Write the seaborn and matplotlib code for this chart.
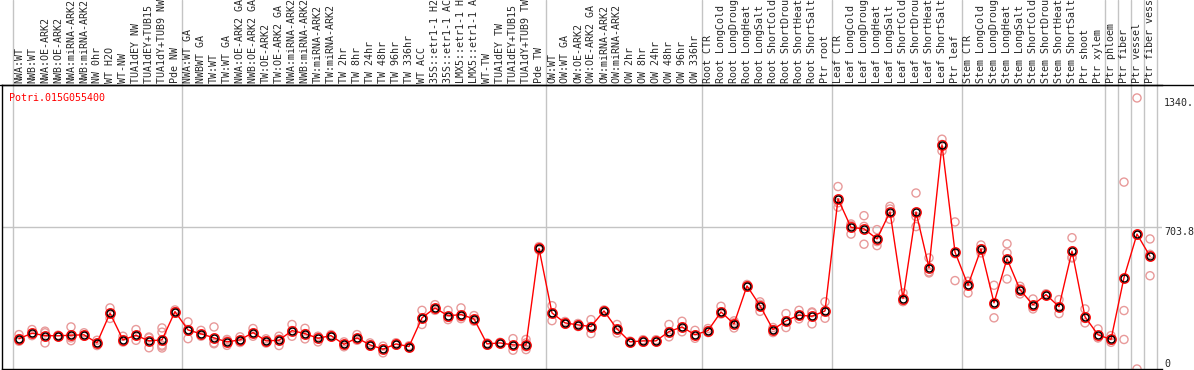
import numpy as np
import pandas as pd
import matplotlib.pyplot as plt
import seaborn as sns
from matplotlib.lines import Line2D

# sample names (top labels)
samples = [
    "NWA:WT", "NWB:WT", "NWA:OE-ARK2", "NWB:OE-ARK2", "NWA:miRNA-ARK2", "NWB:miRNA-ARK2",
    "NW 0hr", "WT H2O", "WT-NW", "TUA1dEY NW", "TUA1dEY+TUB15 NW", "TUA1dY+TUB9 NW", "Pde NW",
    "NWA:WT GA", "NWBWT GA", "TW:WT", "TW:WT GA", "NWA:OE-ARK2 GA", "NWB:OE-ARK2 GA",
    "TW:OE-ARK2", "TW:OE-ARK2 GA", "NWA:miRNA-ARK2 GA", "NWB:miRNA-ARK2 GA", "TW:miRNA-ARK2",
    "TW:miRNA-ARK2 GA", "TW 2hr", "TW 8hr", "TW 24hr", "TW 48hr", "TW 96hr", "TW 336hr", "WT ACC",
    "35S::etr1-1 H2O", "35S::etr1-1 ACC", "LMX5::etr1-1 H2O", "LMX5::etr1-1 ACC", "WT-TW",
    "TUA1dEY TW", "TUA1dEY+TUB15 TW", "TUA1dY+TUB9 TW", "Pde TW",
    "OW:WT", "OW:WT GA", "OW:OE-ARK2", "OW:OE-ARK2 GA", "OW:miRNA-ARK2", "OW:miRNA-ARK2 GA",
    "OW 2hr", "OW 8hr", "OW 24hr", "OW 48hr", "OW 96hr", "OW 336hr",
    "Root CTR", "Root LongCold", "Root LongDrought", "Root LongHeat", "Root LongSalt",
    "Root ShortCold", "Root ShortDrought", "Root ShortHeat", "Root ShortSalt", "Ptr root",
    "Leaf CTR", "Leaf LongCold", "Leaf LongDrought", "Leaf LongHeat", "Leaf LongSalt",
    "Leaf ShortCold", "Leaf ShortDrought", "Leaf ShortHeat", "Leaf ShortSalt", "Ptr leaf",
    "Stem CTR", "Stem LongCold", "Stem LongDrought", "Stem LongHeat", "Stem LongSalt",
    "Stem ShortCold", "Stem ShortDrought", "Stem ShortHeat", "Stem ShortSalt",
    "Ptr shoot", "Ptr xylem", "Ptr phloem", "Ptr fiber", "Ptr vessel", "Ptr fiber vessel",
]

# mean expression per sample
means = [150, 177, 165, 164, 167, 169, 129, 276, 144, 167,
         139, 144, 284, 193, 174, 154, 134, 144, 180, 139,
         142, 190, 175, 152, 165, 122, 154, 119, 98, 124,
         111, 253, 302, 263, 269, 248, 124, 129, 119, 119,
         596, 277, 228, 218, 210, 287, 198, 134, 139, 139,
         185, 208, 169, 190, 282, 223, 411, 313, 195, 238,
         266, 261, 287, 841, 700, 693, 643, 777, 348, 776,
         501, 1108, 578, 414, 593, 327, 545, 392, 317, 368,
         308, 583, 258, 169, 146, 452, 667, 557]

# replicate values per sample
replicates = [
    [170, 150, 137], [195, 177, 165], [187, 179, 129], [167, 165, 160], [208, 154, 140],
    [179, 166, 162], [142, 129, 116], [302, 276, 250], [162, 137, 133], [195, 164, 142],
    [158, 154, 105], [203, 182, 118, 113, 104], [292, 284, 276], [233, 195, 150], [191, 170, 162],
    [208, 129, 125], [146, 139, 117], [159, 142, 131], [200, 178, 162], [149, 140, 128],
    [162, 148, 116], [220, 190, 162], [201, 175, 149], [162, 160, 134], [170, 165, 160],
    [134, 122, 110], [170, 150, 142], [129, 116, 113], [113, 100, 80], [130, 124, 118],
    [115, 110, 108], [290, 250, 220], [318, 299, 290], [290, 255, 244], [302, 258, 249],
    [264, 245, 236], [129, 124, 118], [132, 129, 126], [150, 115, 93], [146, 129, 110, 96],
    [605, 596, 588], [313, 277, 239], [235, 228, 222], [225, 218, 210], [244, 210, 175],
    [292, 287, 282], [220, 198, 178], [138, 134, 130], [145, 139, 132], [145, 139, 135],
    [220, 185, 159], [236, 208, 184], [191, 169, 152], [200, 190, 180], [310, 282, 272],
    [238, 228, 203], [418, 411, 404], [332, 320, 285], [205, 195, 180], [274, 238, 205],
    [290, 266, 248], [282, 278, 223], [332, 287, 251], [902, 822, 800], [717, 710, 667],
    [758, 705, 617], [689, 630, 610], [804, 791, 740], [376, 335, 333], [870, 754, 704],
    [549, 480, 475], [1136, 1110, 1078], [727, 570, 437], [433, 433, 376], [613, 593, 574],
    [414, 318, 253], [619, 574, 445], [409, 397, 371], [346, 308, 297], [372, 368, 364],
    [343, 307, 274], [649, 552, 549], [297, 250, 228], [198, 155, 154], [165, 142, 132],
    [924, 289, 146], [1340, 661, 0], [643, 567, 461],
]

# group separators (sample index where a new group starts)
group_starts = [0, 13, 41, 53, 63, 73, 84, 85, 86, 87, 88]
ref_value = 703.8
ytick_vals = [0, 703.8, 1340]
ytick_labels = ["0", "703.8", "1340."]
gene = "Potri.015G055400"

sns.set_style("white")
plt.rcParams['font.family'] = ['DejaVu Sans Mono']
plt.rcParams['font.size'] = 7.2

mean_df = pd.DataFrame({"x": np.arange(len(means)), "v": means})
rep_df = pd.DataFrame(
    [(i, v) for i, reps in enumerate(replicates) for v in reps], columns=["x", "v"]
)

W, H = 1194, 370
fig = plt.figure(figsize=(W / 100, H / 100), dpi=100)
# plot area in pixels: x 2..1162, y 85..369
ax = fig.add_axes([2 / W, 1 / H, 1160 / W, 284 / H])

sns.scatterplot(data=rep_df, x="x", y="v", ax=ax, marker="o", s=34,
                fc="none", ec="#e89a9a", linewidth=1, zorder=2)
sns.lineplot(data=mean_df, x="x", y="v", ax=ax, color="red", lw=1,
             estimator=None, zorder=3)
ax.plot(mean_df["x"], mean_df["v"], "o", ms=6.8, mfc="none", mec="red", mew=1, zorder=4)
ax.plot(mean_df["x"], mean_df["v"], "o", ms=5, mfc="none", mec="black", mew=1, zorder=5)

ax.set_xlim((2 - 19) / 13, (1162 - 19) / 13)
ax.set_ylim(0, 1404)
ax.set_xticks([])
ax.set_yticks([])
ax.set_xlabel("")
ax.set_ylabel("")

for s in ["left", "bottom", "top"]:
    ax.spines[s].set_color("black")
    ax.spines[s].set_linewidth(1)
ax.spines["right"].set_visible(False)

# grey separators run through the label area
for g in group_starts:
    ax.axvline(g - 0.5, ymin=0, ymax=369 / 284, clip_on=False, color="#c4c4c4", lw=1, zorder=0)
ax.axhline(ref_value, color="#c4c4c4", lw=1, zorder=0)

# top line extends to the right edge
fig.add_artist(Line2D([0, 1], [285 / H, 285 / H], color="black", lw=1))

xt = ax.get_xaxis_transform()
for i, name in enumerate(samples):
    ax.text(i, 1 + 2 / 284, name, rotation=90, ha="center", va="bottom",
            transform=xt, clip_on=False, fontsize=7.2)

yt = ax.get_yaxis_transform()
for v, lab in zip(ytick_vals, ytick_labels):
    ax.text(1 + 2 / 1160, v, lab, ha="left", va="bottom" if v == 0 else "top",
            transform=yt, clip_on=False, fontsize=7.2)

ax.text(7 / 1160, 1 - 8 / 284, gene, color="red", ha="left", va="top",
        transform=ax.transAxes, fontsize=7.2)

fig.savefig("out.png", dpi=100)
